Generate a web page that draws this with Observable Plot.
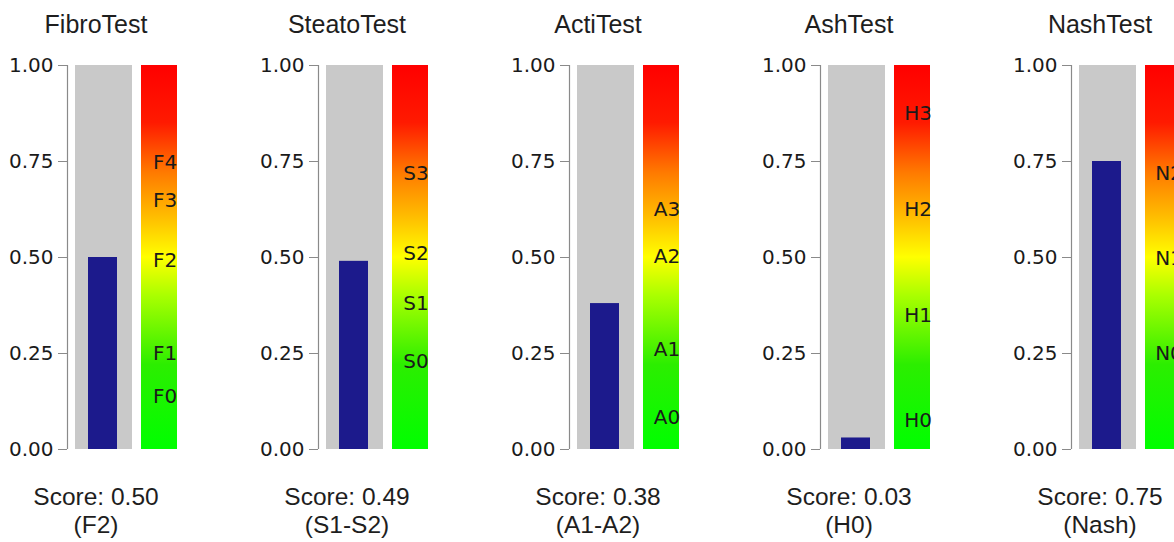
<!DOCTYPE html>
<html><head><meta charset="utf-8">
<script src="https://cdn.jsdelivr.net/npm/d3@7"></script>
<script src="https://cdn.jsdelivr.net/npm/@observablehq/plot@0.6"></script>
<style>
body{margin:0;background:#fff;}
#wrap{width:1174px;height:542px;overflow:hidden;display:flex;background:#fff;}
#wrap > svg{flex:0 0 auto;}
</style></head><body>
<svg width="0" height="0" style="position:absolute"><defs><linearGradient id="grad" x1="0" y1="1" x2="0" y2="0"></linearGradient></defs></svg>
<div id="wrap"></div>
<script>
const tests = ["FibroTest", "SteatoTest", "ActiTest", "AshTest", "NashTest"];
const scores = [0.50, 0.49, 0.38, 0.03, 0.75];
const interpretations = ["F2", "S1-S2", "A1-A2", "H0", "Nash"];
const stageLabels = [
  ["F0", "F1", "F2", "F3", "F4"],
  ["S0", "S1", "S2", "S3"],
  ["A0", "A1", "A2", "A3"],
  ["H0", "H1", "H2", "H3"],
  ["N0", "N1", "N2"]
];
const stageValues = [
  [0.138, 0.25, 0.493, 0.647, 0.746],
  [0.228, 0.381, 0.511, 0.719],
  [0.083, 0.259, 0.503, 0.624],
  [0.074, 0.349, 0.624, 0.876],
  [0.25, 0.498, 0.719]
];
const tickValues = [0, 0.25, 0.5, 0.75, 1];
const gradientOffsets = [0, 0.22, 0.4, 0.5, 0.6, 0.72, 0.85, 1];
const gradientColors = ["#00ff00", "#2cee00", "#aaff00", "#ffff00", "#ffc000", "#ff7a00", "#ff1a00", "#ff0000"];

const grad = document.getElementById("grad");
gradientOffsets.forEach((o, k) => {
  const s = document.createElementNS("http://www.w3.org/2000/svg", "stop");
  s.setAttribute("offset", o);
  s.setAttribute("stop-color", gradientColors[k]);
  grad.appendChild(s);
});

const wrap = document.getElementById("wrap");
tests.forEach((t, i) => {
  const stages = stageLabels[i].map((label, j) => ({label, value: stageValues[i][j], slot: "stage"}));
  const chart = Plot.plot({
    width: 251, height: 542,
    marginTop: 65, marginBottom: 93, marginLeft: 67, marginRight: 127,
    x: {domain: ["score", "stage"], range: [75, 198], paddingInner: 9 / 66, paddingOuter: 0, axis: null},
    y: {domain: [0, 1]},
    marks: [
      Plot.ruleX([{slot: "score"}], {x: "slot", y1: 0, y2: 1, dx: -36.5, stroke: "#8a8a8a", strokeWidth: 1.2}),
      Plot.axisY({ticks: tickValues, tickFormat: ".2f", tickSize: 9, tickPadding: 5,
        stroke: "#8a8a8a", fill: "#1a1a1a", fontSize: 20, fontFamily: "DejaVu Sans", label: null}),
      Plot.barY([{slot: "score"}], {x: "slot", y1: 0, y2: 1, fill: "#c9c9c9"}),
      Plot.barY([{slot: "score", value: scores[i]}], {x: "slot", y: "value", fill: "#1c1a8c", insetLeft: 13, insetRight: 15}),
      Plot.barY([{slot: "stage"}], {x: "slot", y1: 0, y2: 1, fill: "url(#grad)", insetRight: 21}),
      Plot.text(stages, {x: "slot", y: "value", text: "label", dx: -5, fontSize: 20, fontFamily: "DejaVu Sans", fill: "#1a1a1a"}),
      Plot.text([t], {frameAnchor: "top", dy: -50, fontSize: 25, fontFamily: "Liberation Sans", fill: "#1e1e1e"}),
      Plot.text([`Score: ${scores[i].toFixed(2)}\n(${interpretations[i]})`], {frameAnchor: "bottom", lineAnchor: "top", dy: 36, lineHeight: 1.13, fontSize: 24.5, fontFamily: "Liberation Sans", fill: "#1e1e1e"})
    ]
  });
  wrap.appendChild(chart);
});
</script>
</body></html>
